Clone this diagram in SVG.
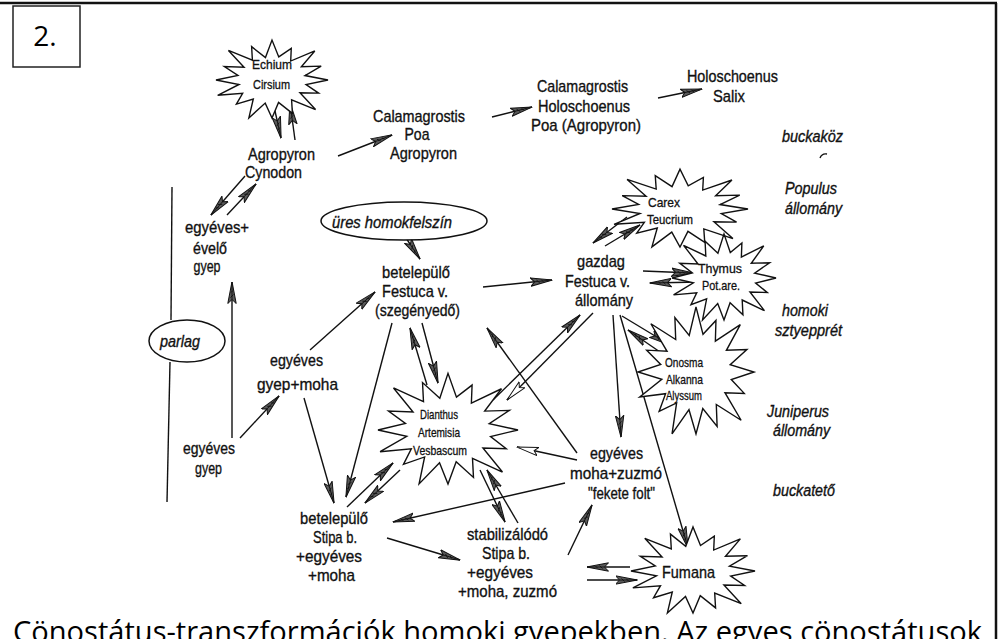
<svg xmlns="http://www.w3.org/2000/svg" width="1004" height="639" viewBox="0 0 1004 639">
<defs>
<style>
.t{font-family:"Liberation Sans Narrow","Liberation Sans",Arial,sans-serif;font-size:17px;fill:#111;stroke:#111;stroke-width:0.35;text-anchor:middle}
.s{font-size:13px;stroke-width:0.3}
.i{font-style:italic;font-size:16px}
.c{stroke:#111;stroke-width:1.4;fill:none;marker-end:url(#ah)}
.w{marker-end:url(#aw)}
.p{stroke:#111;stroke-width:1.4;fill:none}
.el{fill:#fff;stroke:#111;stroke-width:1.5}
.cap{font-family:"Open Sans","Noto Sans",sans-serif;fill:#000}
</style>
<marker id="ah" viewBox="0 0 22 10" markerUnits="userSpaceOnUse" markerWidth="22" markerHeight="10" refX="21.5" refY="5" orient="auto">
<path d="M0,0.8 L22,5 L0,9.2 L4,5 Z" fill="#5a5a5a" stroke="#111" stroke-width="1"/>
<path d="M4,5 L19,5 M6,3.5 L9,6.5 M11,4 L13,6" stroke="#111" stroke-width="0.9"/>
</marker>
<marker id="aw" viewBox="0 0 22 10" markerUnits="userSpaceOnUse" markerWidth="22" markerHeight="10" refX="21.5" refY="5" orient="auto">
<path d="M0,0.8 L22,5 L0,9.2 L4,5 Z" fill="#fff" stroke="#111" stroke-width="1"/>
</marker>
<path id="star" fill="#fff" stroke="#111" stroke-width="1.4" vector-effect="non-scaling-stroke" d="M1,0 L0.608,0.121 L0.832,0.345 L0.499,0.334 L0.778,0.778 L0.350,0.524 L0.364,0.878 L0.117,0.589 L0,1 L-0.121,0.608 L-0.413,0.998 L-0.334,0.499 L-0.636,0.636 L-0.524,0.350 L-0.970,0.402 L-0.589,0.117 L-1,0 L-0.608,-0.121 L-0.850,-0.352 L-0.499,-0.334 L-0.778,-0.778 L-0.350,-0.524 L-0.364,-0.878 L-0.117,-0.589 L0,-1.05 L0.121,-0.608 L0.344,-0.832 L0.334,-0.499 L0.764,-0.764 L0.524,-0.350 L0.878,-0.364 L0.589,-0.117 Z"/>
</defs>
<rect width="1004" height="639" fill="#fff"/>
<g id="frame">
<line x1="0" y1="3" x2="997" y2="3" stroke="#111" stroke-width="2.5"/>
<line x1="996" y1="3" x2="996" y2="639" stroke="#111" stroke-width="2.5"/>
</g>
<g id="label-2">
<rect x="13" y="6" width="67" height="61" fill="#fff" stroke="#222" stroke-width="1.5"/>
<text x="45" y="46" class="cap" font-size="28" text-anchor="middle">2.</text>
</g>
<g id="connectors">
<line class="p" x1="172" y1="187" x2="171" y2="320"/>
<line class="p" x1="170" y1="362" x2="167" y2="502"/>
<line class="c" x1="273" y1="102" x2="281" y2="138"/>
<line class="c" x1="295" y1="140" x2="290" y2="103"/>
<line class="c" x1="338" y1="156" x2="392" y2="135"/>
<line class="c" x1="245" y1="176" x2="211" y2="215"/>
<line class="c" x1="227" y1="215" x2="256" y2="184"/>
<line class="c" x1="232" y1="438" x2="232" y2="282"/>
<line class="c" x1="240" y1="438" x2="279" y2="396"/>
<line class="c" x1="310" y1="350" x2="375" y2="292"/>
<line class="c" x1="402" y1="232" x2="420" y2="259"/>
<line class="c" x1="304" y1="398" x2="334" y2="503"/>
<line class="c" x1="392" y1="323" x2="346" y2="497"/>
<line class="c" x1="427" y1="385" x2="410" y2="328"/>
<line class="c" x1="422" y1="323" x2="438" y2="383"/>
<line class="c" x1="347" y1="507" x2="393" y2="463"/>
<line class="c" x1="400" y1="470" x2="365" y2="503"/>
<line class="c" x1="387" y1="538" x2="460" y2="560"/>
<line class="c" x1="480" y1="470" x2="505" y2="522"/>
<line class="c" x1="518" y1="523" x2="487" y2="470"/>
<line class="c" x1="565" y1="483" x2="393" y2="522"/>
<line class="c" x1="568" y1="555" x2="592" y2="505"/>
<line class="c" x1="630" y1="567" x2="587" y2="567"/>
<line class="c" x1="587" y1="580" x2="637" y2="580"/>
<line class="c" x1="483" y1="287" x2="552" y2="280"/>
<line class="c" x1="605" y1="246" x2="640" y2="225"/>
<line class="c" x1="627" y1="217" x2="593" y2="243"/>
<line class="c" x1="643" y1="271" x2="693" y2="273"/>
<line class="c" x1="700" y1="282" x2="650" y2="283"/>
<line class="c" x1="622" y1="316" x2="670" y2="345"/>
<line class="c" x1="660" y1="352" x2="628" y2="330"/>
<line class="c" x1="613" y1="315" x2="621" y2="437"/>
<line class="c" x1="620" y1="315" x2="688" y2="548"/>
<line class="c" x1="493" y1="400" x2="580" y2="315"/>
<line class="c w" x1="593" y1="313" x2="507" y2="400"/>
<line class="c" x1="577" y1="453" x2="487" y2="328"/>
<line class="c w" x1="577" y1="460" x2="517" y2="447"/>
<line class="c" x1="492" y1="117" x2="532" y2="107"/>
<line class="c" x1="658" y1="98" x2="702" y2="89"/>
<path class="p" d="M820,158 Q822,153 827,154"/>
</g>
<g id="n-echium">
<use href="#star" transform="translate(272,80) scale(56,38)"/>
<text class="t s" x="272" y="69" textLength="40" lengthAdjust="spacingAndGlyphs">Echium</text>
<text class="t s" x="271.5" y="89" textLength="37" lengthAdjust="spacingAndGlyphs">Cirsium</text>
</g>
<g id="n-agropyron-cynodon">
<text class="t" x="281.5" y="160" textLength="67" lengthAdjust="spacingAndGlyphs">Agropyron</text>
<text class="t" x="273.5" y="178" textLength="57" lengthAdjust="spacingAndGlyphs">Cynodon</text>
</g>
<g id="n-calam-poa-agro">
<text class="t" x="419" y="122" textLength="92" lengthAdjust="spacingAndGlyphs">Calamagrostis</text>
<text class="t" x="417" y="140" textLength="25" lengthAdjust="spacingAndGlyphs">Poa</text>
<text class="t" x="423.5" y="159" textLength="67" lengthAdjust="spacingAndGlyphs">Agropyron</text>
</g>
<g id="n-calam-holo-poa">
<text class="t" x="582.5" y="92" textLength="91" lengthAdjust="spacingAndGlyphs">Calamagrostis</text>
<text class="t" x="584" y="112" textLength="92" lengthAdjust="spacingAndGlyphs">Holoschoenus</text>
<text class="t" x="586" y="131" textLength="110" lengthAdjust="spacingAndGlyphs">Poa (Agropyron)</text>
</g>
<g id="n-holo-salix">
<text class="t" x="732.5" y="82" textLength="91" lengthAdjust="spacingAndGlyphs">Holoschoenus</text>
<text class="t" x="729" y="102" textLength="32" lengthAdjust="spacingAndGlyphs">Salix</text>
</g>
<g id="n-egyeves-evelo">
<text class="t" x="217" y="233" textLength="64" lengthAdjust="spacingAndGlyphs">egyéves+</text>
<text class="t" x="210" y="254" textLength="34" lengthAdjust="spacingAndGlyphs">évelő</text>
<text class="t" x="207" y="272" textLength="27" lengthAdjust="spacingAndGlyphs">gyep</text>
</g>
<g id="n-parlag">
<ellipse class="el" cx="187" cy="341" rx="38" ry="21"/>
<text class="t i" x="180" y="347" textLength="40" lengthAdjust="spacingAndGlyphs">parlag</text>
</g>
<g id="n-ures">
<ellipse class="el" cx="404" cy="221" rx="83" ry="19"/>
<text class="t i" x="392" y="228" textLength="120" lengthAdjust="spacingAndGlyphs">üres homokfelszín</text>
</g>
<g id="n-betel-festuca">
<text class="t" x="416" y="278" textLength="68" lengthAdjust="spacingAndGlyphs">betelepülő</text>
<text class="t" x="415" y="297" textLength="66" lengthAdjust="spacingAndGlyphs">Festuca v.</text>
<text class="t" x="417.5" y="316" textLength="85" lengthAdjust="spacingAndGlyphs">(szegényedő)</text>
</g>
<g id="n-egyeves-gyep-moha">
<text class="t" x="296.5" y="366" textLength="53" lengthAdjust="spacingAndGlyphs">egyéves</text>
<text class="t" x="297.5" y="390" textLength="81" lengthAdjust="spacingAndGlyphs">gyep+moha</text>
</g>
<g id="n-egyeves-gyep">
<text class="t" x="209" y="454" textLength="52" lengthAdjust="spacingAndGlyphs">egyéves</text>
<text class="t" x="208.5" y="474" textLength="27" lengthAdjust="spacingAndGlyphs">gyep</text>
</g>
<g id="n-dianthus">
<use href="#star" transform="translate(448,430) scale(70,54)"/>
<text class="t s" x="439" y="419" textLength="38" lengthAdjust="spacingAndGlyphs">Dianthus</text>
<text class="t s" x="439" y="437" textLength="42" lengthAdjust="spacingAndGlyphs">Artemisia</text>
<text class="t s" x="440" y="455" textLength="54" lengthAdjust="spacingAndGlyphs">Vesbascum</text>
</g>
<g id="n-betel-stipa">
<text class="t" x="334" y="524" textLength="68" lengthAdjust="spacingAndGlyphs">betelepülő</text>
<text class="t" x="335" y="543" textLength="44" lengthAdjust="spacingAndGlyphs">Stipa b.</text>
<text class="t" x="329" y="562" textLength="66" lengthAdjust="spacingAndGlyphs">+egyéves</text>
<text class="t" x="331.5" y="581" textLength="47" lengthAdjust="spacingAndGlyphs">+moha</text>
</g>
<g id="n-stabil">
<text class="t" x="507.5" y="540" textLength="81" lengthAdjust="spacingAndGlyphs">stabilizálódó</text>
<text class="t" x="506" y="559" textLength="48" lengthAdjust="spacingAndGlyphs">Stipa b.</text>
<text class="t" x="500" y="578" textLength="66" lengthAdjust="spacingAndGlyphs">+egyéves</text>
<text class="t" x="507.5" y="597" textLength="99" lengthAdjust="spacingAndGlyphs">+moha, zuzmó</text>
</g>
<g id="n-gazdag">
<text class="t" x="601" y="267" textLength="48" lengthAdjust="spacingAndGlyphs">gazdag</text>
<text class="t" x="597.5" y="287" textLength="65" lengthAdjust="spacingAndGlyphs">Festuca v.</text>
<text class="t" x="604" y="306" textLength="58" lengthAdjust="spacingAndGlyphs">állomány</text>
</g>
<g id="n-carex">
<use href="#star" transform="translate(680,209) scale(68,38)"/>
<text class="t s" x="664" y="207" textLength="32" lengthAdjust="spacingAndGlyphs">Carex</text>
<text class="t s" x="670" y="224" textLength="46" lengthAdjust="spacingAndGlyphs">Teucrium</text>
</g>
<g id="n-thymus">
<use href="#star" transform="translate(724,278) scale(52,42)"/>
<text class="t s" x="720" y="273" textLength="44" lengthAdjust="spacingAndGlyphs">Thymus</text>
<text class="t s" x="721" y="290" textLength="38" lengthAdjust="spacingAndGlyphs">Pot.are.</text>
</g>
<g id="n-onosma">
<use href="#star" transform="translate(696,372) scale(58,62)"/>
<text class="t s" x="684" y="367" textLength="38" lengthAdjust="spacingAndGlyphs">Onosma</text>
<text class="t s" x="684.5" y="384" textLength="37" lengthAdjust="spacingAndGlyphs">Alkanna</text>
<text class="t s" x="684" y="400" textLength="36" lengthAdjust="spacingAndGlyphs">Alyssum</text>
</g>
<g id="n-moha-zuzmo">
<text class="t" x="616.5" y="459" textLength="53" lengthAdjust="spacingAndGlyphs">egyéves</text>
<text class="t" x="616" y="479" textLength="92" lengthAdjust="spacingAndGlyphs">moha+zuzmó</text>
<text class="t" x="621.5" y="499" textLength="67" lengthAdjust="spacingAndGlyphs">"fekete folt"</text>
</g>
<g id="n-fumana">
<use href="#star" transform="translate(693,571) scale(62,42)"/>
<text class="t" x="688.5" y="578" font-size="16" textLength="53" lengthAdjust="spacingAndGlyphs">Fumana</text>
</g>
<g id="zone-labels">
<text class="t i" x="812.5" y="142" textLength="61" lengthAdjust="spacingAndGlyphs">buckaköz</text>
<text class="t i" x="811" y="194" textLength="52" lengthAdjust="spacingAndGlyphs">Populus</text>
<text class="t i" x="813.5" y="214" textLength="57" lengthAdjust="spacingAndGlyphs">állomány</text>
<text class="t i" x="805" y="316" textLength="46" lengthAdjust="spacingAndGlyphs">homoki</text>
<text class="t i" x="808.5" y="336" textLength="67" lengthAdjust="spacingAndGlyphs">sztyepprét</text>
<text class="t i" x="798" y="417" textLength="62" lengthAdjust="spacingAndGlyphs">Juniperus</text>
<text class="t i" x="801.5" y="436" textLength="57" lengthAdjust="spacingAndGlyphs">állomány</text>
<text class="t i" x="804" y="496" textLength="62" lengthAdjust="spacingAndGlyphs">buckatető</text>
</g>
<g id="caption">
<text class="cap" x="13" y="642" font-size="30" textLength="969" lengthAdjust="spacingAndGlyphs">Cönostátus-transzformációk homoki gyepekben. Az egyes cönostátusok</text>
</g>
</svg>
